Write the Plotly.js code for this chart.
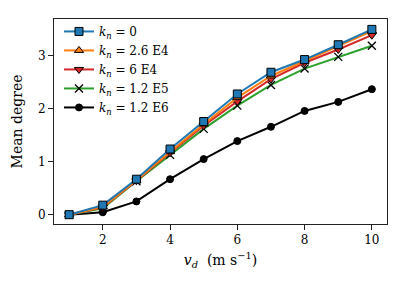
<!DOCTYPE html>
<html><head><meta charset="utf-8">
<script src="https://cdn.plot.ly/plotly-3.0.1.min.js"></script>
<style>html,body{margin:0;padding:0;background:#fff}#chart{width:407px;height:287px}</style>
</head><body><div id="chart"></div>
<script>
const vd = [1, 2, 3, 4, 5, 6, 7, 8, 9, 10];
const k0     = [0, 0.18, 0.67, 1.24, 1.76, 2.28, 2.69, 2.93, 3.21, 3.50];
const k26E4  = [0, 0.15, 0.65, 1.19, 1.71, 2.21, 2.62, 2.90, 3.18, 3.47];
const k6E4   = [0, 0.14, 0.64, 1.17, 1.68, 2.14, 2.56, 2.87, 3.12, 3.39];
const k12E5  = [0, 0.12, 0.63, 1.13, 1.62, 2.06, 2.45, 2.76, 2.98, 3.19];
const k12E6  = [0, 0.045, 0.25, 0.67, 1.05, 1.39, 1.66, 1.96, 2.13, 2.37];
const kn = '<i>k</i><sub><i>n</i></sub>\u00a0=\u00a0';
const names = [kn + '0', kn + '2.6\u00a0E4', kn + '6\u00a0E4', kn + '1.2\u00a0E5', kn + '1.2\u00a0E6'];
const colors = ['#1f77b4', '#ff7f0e', '#d62728', '#2ca02c', '#000000'];
const symbols = ['square', 'triangle-up', 'triangle-down', 'x-thin', 'circle'];
const series = [k0, k26E4, k6E4, k12E5, k12E6];
const traces = [0,1,2,3,4].map(i => ({
  x: vd, y: series[i], name: names[i], type: 'scatter', mode: 'lines+markers',
  line: {color: colors[i], width: 2},
  marker: symbols[i] === 'x-thin'
    ? {symbol: 'x-thin', size: 8, color: '#000', line: {color: '#000', width: 1.3}}
    : {symbol: symbols[i], size: symbols[i]==='circle' ? 7 : 8, color: colors[i], line: {color: '#000', width: 1}}
}));
traces.reverse();
const fam = 'DejaVu Serif';
const layout = {
  width: 407, height: 287,
  margin: {l: 54, r: 20, t: 19, b: 63},
  paper_bgcolor: '#fff', plot_bgcolor: '#fff',
  font: {family: fam, size: 12, color: '#000'},
  showlegend: true,
  legend: {x: 0.015, y: 1.01, xanchor: 'left', yanchor: 'top', bgcolor: 'rgba(0,0,0,0)',
    font: {family: fam, size: 12, color: '#000'}, traceorder: 'reversed', tracegroupgap: 0,
    itemwidth: 30},
  xaxis: {range: [0.55, 10.45], tickvals: [2,4,6,8,10], ticks: 'outside', ticklen: 5, tickcolor: '#222',
    showline: true, linecolor: '#222', linewidth: 1, mirror: true, showgrid: false, zeroline: false,
    tickfont: {family: fam, size: 12},
    title: {text: '<i>v</i><sub><i>d</i></sub>  (m s<sup>−1</sup>)', standoff: 8, font: {family: fam, size: 14}}},
  yaxis: {range: [-0.176, 3.696], tickvals: [0,1,2,3], ticks: 'outside', ticklen: 5, tickcolor: '#222',
    showline: true, linecolor: '#222', linewidth: 1, mirror: true, showgrid: false, zeroline: false,
    tickfont: {family: fam, size: 12},
    title: {text: 'Mean degree', standoff: 12, font: {family: fam, size: 14}}}
};
Plotly.newPlot('chart', traces, layout, {displayModeBar: false, staticPlot: true});
</script></body></html>
